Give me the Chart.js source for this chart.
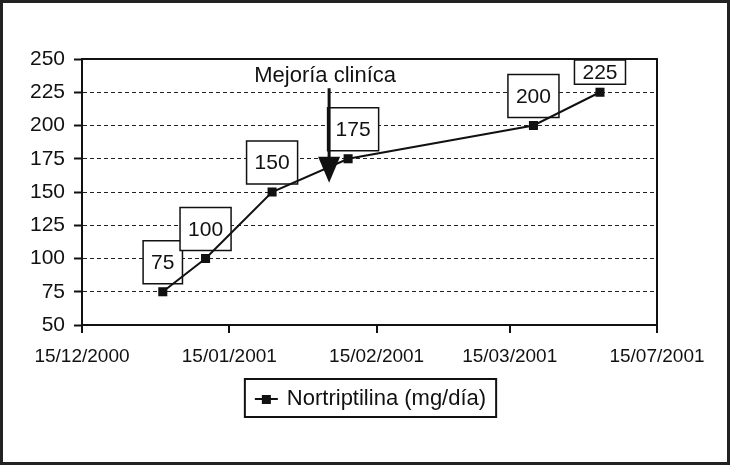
<!DOCTYPE html>
<html>
<head>
<meta charset="utf-8">
<script src="https://cdn.jsdelivr.net/npm/chart.js@4.4.1/dist/chart.umd.min.js"></script>
<style>
  body { margin: 0; background: #fff; }
  #wrap { width: 730px; height: 465px; }
</style>
</head>
<body>
<div id="wrap"><canvas id="c" width="730" height="465"></canvas></div>
<script>
// days counted from 15/12/2000 (axis origin)
var dias = [17, 26, 40, 56, 95, 109];
var dosis = [75, 100, 150, 175, 200, 225];
var serieNombre = 'Nortriptilina (mg/día)';

// x axis ticks as printed on the original (last label kept as in the figure)
var tickDias = [0, 31, 62, 90, 121];
var tickEtiquetas = ['15/12/2000', '15/01/2001', '15/02/2001', '15/03/2001', '15/07/2001'];

// arrow annotation
var flechaTexto = 'Mejoría cliníca';
var flechaDia = 52;
var flechaDesde = 228;
var flechaHasta = 157;

// small horizontal nudges of the value boxes (px)
var cajaDesplaza = [0, 0, 0, 5, 0, 0];

var FONT = '"Liberation Sans", Arial, Helvetica, sans-serif';
var INK = '#111';

var puntos = [];
for (var i = 0; i < dias.length; ++i) puntos.push({x: dias[i], y: dosis[i]});

var extras = {
  id: 'extras',
  beforeDatasetsDraw: function(chart) {
    // value boxes go under the line
    var ctx = chart.ctx;
    var a = chart.chartArea;
    ctx.save();
    ctx.font = '21px ' + FONT;
    ctx.textAlign = 'center';
    ctx.textBaseline = 'middle';
    var meta = chart.getDatasetMeta(0);
    for (var i = 0; i < meta.data.length; ++i) {
      var p = meta.data[i];
      var txt = String(dosis[i]);
      var w = ctx.measureText(txt).width + 16;
      var bottom = p.y - 8;
      var top = Math.max(bottom - 43, a.top + 1);
      var cx = p.x + cajaDesplaza[i];
      ctx.fillStyle = '#fff';
      ctx.fillRect(cx - w / 2, top, w, bottom - top);
      ctx.lineWidth = 1.5;
      ctx.strokeStyle = INK;
      ctx.strokeRect(cx - w / 2, top, w, bottom - top);
      ctx.fillStyle = INK;
      ctx.fillText(txt, cx, (top + bottom) / 2 + 1);
    }
    ctx.restore();
  },
  afterDatasetsDraw: function(chart) {
    var ctx = chart.ctx;
    var a = chart.chartArea;
    var xs = chart.scales.x, ys = chart.scales.y;

    ctx.save();
    // plot frame
    ctx.strokeStyle = INK;
    ctx.lineWidth = 2;
    ctx.strokeRect(a.left, a.top, a.right - a.left, a.bottom - a.top);

    // arrow
    var ax = xs.getPixelForValue(flechaDia);
    var y0 = ys.getPixelForValue(flechaDesde);
    var y1 = ys.getPixelForValue(flechaHasta);
    ctx.strokeStyle = INK;
    ctx.lineWidth = 3;
    ctx.beginPath();
    ctx.moveTo(ax, y0);
    ctx.lineTo(ax, y1 - 20);
    ctx.stroke();
    ctx.fillStyle = INK;
    ctx.beginPath();
    ctx.moveTo(ax - 11, y1 - 26);
    ctx.lineTo(ax + 11, y1 - 26);
    ctx.lineTo(ax, y1);
    ctx.closePath();
    ctx.fill();

    ctx.font = '22px ' + FONT;
    ctx.textAlign = 'center';
    ctx.textBaseline = 'alphabetic';
    ctx.fillText(flechaTexto, ax - 4, y0 - 6);

    // legend
    ctx.font = '22px ' + FONT;
    var tw = ctx.measureText(serieNombre).width;
    var lw = 10 + 23 + 9 + tw + 10;
    var lx = (a.left + a.right) / 2 - lw / 2 + 1;
    var ly = 379;
    ctx.lineWidth = 2;
    ctx.strokeRect(lx, ly, lw, 38);
    ctx.beginPath();
    ctx.moveTo(lx + 10, ly + 20);
    ctx.lineTo(lx + 33, ly + 20);
    ctx.stroke();
    ctx.fillRect(lx + 17, ly + 16, 9, 9);
    ctx.textAlign = 'left';
    ctx.textBaseline = 'middle';
    ctx.fillText(serieNombre, lx + 42, ly + 20);

    // outer frame
    ctx.lineWidth = 3;
    ctx.strokeStyle = '#222';
    ctx.strokeRect(1.5, 1.5, chart.width - 3, chart.height - 3);
    ctx.restore();
  }
};

var ctx = document.getElementById('c').getContext('2d');
var chart = new Chart(ctx, {
  type: 'line',
  data: {
    datasets: [{
      label: serieNombre,
      data: puntos,
      borderColor: INK,
      backgroundColor: INK,
      borderWidth: 2,
      pointStyle: 'rect',
      pointRadius: 6.4,
      pointBorderWidth: 0,
      tension: 0
    }]
  },
  options: {
    responsive: false,
    animation: false,
    layout: { padding: { top: 59, right: 73, left: 0, bottom: 0 } },
    plugins: { legend: { display: false }, tooltip: { enabled: false } },
    scales: {
      x: {
        type: 'linear',
        min: 0,
        max: 121,
        afterBuildTicks: function(s) {
          s.ticks = tickDias.map(function(v) { return {value: v}; });
        },
        afterFit: function(s) { s.height = 140; },
        ticks: {
          autoSkip: false,
          maxRotation: 0,
          padding: 12,
          color: INK,
          font: { family: FONT, size: 19 },
          callback: function(v, idx) { return tickEtiquetas[idx]; }
        },
        grid: { drawOnChartArea: false, tickLength: 8, tickColor: INK, lineWidth: 2 },
        border: { color: INK, width: 2 }
      },
      y: {
        min: 50,
        max: 250,
        afterFit: function(s) { s.width = 82; },
        ticks: {
          stepSize: 25,
          padding: 9,
          color: INK,
          font: { family: FONT, size: 21 }
        },
        grid: { color: '#222', lineWidth: 1, tickLength: 8, tickColor: INK, tickBorderDash: [], tickWidth: 2 },
        border: { color: INK, width: 2, dash: [4, 3] }
      }
    }
  },
  plugins: [extras]
});
</script>
</body>
</html>
